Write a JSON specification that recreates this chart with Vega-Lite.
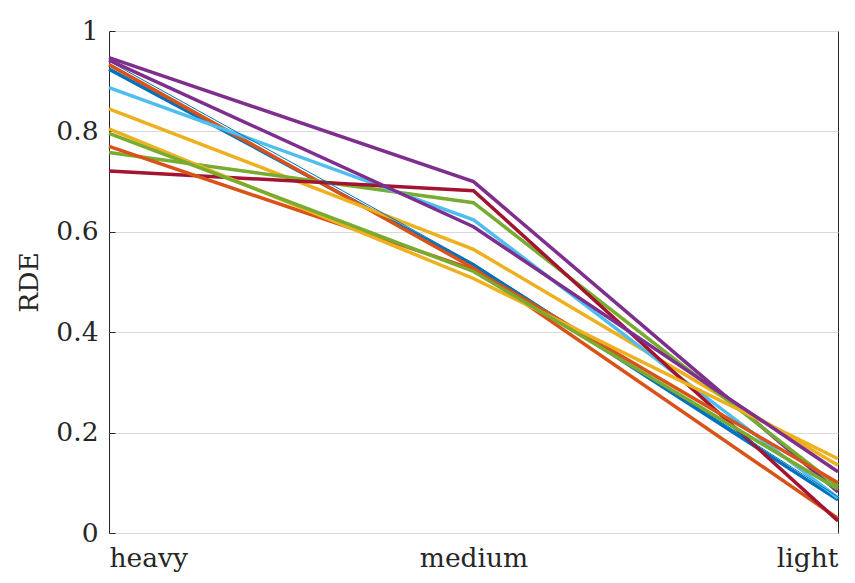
{
  "$schema": "https://vega.github.io/schema/vega-lite/v6.json",
  "width": 729,
  "height": 502,
  "autosize": {"type": "none"},
  "padding": {"left": 109, "top": 31, "right": 17, "bottom": 50},
  "background": "white",
  "config": {
    "view": {"stroke": "#262626", "strokeWidth": 1},
    "font": "DejaVu Serif",
    "axis": {
      "labelFont": "DejaVu Serif",
      "titleFont": "DejaVu Serif",
      "labelColor": "#262626",
      "titleColor": "#262626",
      "domainColor": "#262626",
      "tickColor": "#262626",
      "labelFontSize": 26.5,
      "titleFontSize": 26.5,
      "titleFontWeight": "normal"
    }
  },
  "data": {
    "values": [
      {"series": "s01", "level": "heavy", "value": 0.924},
      {"series": "s01", "level": "medium", "value": 0.534},
      {"series": "s01", "level": "light", "value": 0.066},
      {"series": "s02", "level": "heavy", "value": 0.933},
      {"series": "s02", "level": "medium", "value": 0.528},
      {"series": "s02", "level": "light", "value": 0.029},
      {"series": "s03", "level": "heavy", "value": 0.845},
      {"series": "s03", "level": "medium", "value": 0.565},
      {"series": "s03", "level": "light", "value": 0.135},
      {"series": "s04", "level": "heavy", "value": 0.947},
      {"series": "s04", "level": "medium", "value": 0.700},
      {"series": "s04", "level": "light", "value": 0.082},
      {"series": "s05", "level": "heavy", "value": 0.758},
      {"series": "s05", "level": "medium", "value": 0.658},
      {"series": "s05", "level": "light", "value": 0.093},
      {"series": "s06", "level": "heavy", "value": 0.887},
      {"series": "s06", "level": "medium", "value": 0.624},
      {"series": "s06", "level": "light", "value": 0.070},
      {"series": "s07", "level": "heavy", "value": 0.721},
      {"series": "s07", "level": "medium", "value": 0.682},
      {"series": "s07", "level": "light", "value": 0.024},
      {"series": "s08", "level": "heavy", "value": 0.940},
      {"series": "s08", "level": "medium", "value": 0.537},
      {"series": "s08", "level": "light", "value": 0.072},
      {"series": "s09", "level": "heavy", "value": 0.770},
      {"series": "s09", "level": "medium", "value": 0.525},
      {"series": "s09", "level": "light", "value": 0.100},
      {"series": "s10", "level": "heavy", "value": 0.805},
      {"series": "s10", "level": "medium", "value": 0.507},
      {"series": "s10", "level": "light", "value": 0.148},
      {"series": "s11", "level": "heavy", "value": 0.942},
      {"series": "s11", "level": "medium", "value": 0.610},
      {"series": "s11", "level": "light", "value": 0.122},
      {"series": "s12", "level": "heavy", "value": 0.796},
      {"series": "s12", "level": "medium", "value": 0.521},
      {"series": "s12", "level": "light", "value": 0.087}
    ]
  },
  "mark": {"type": "line", "strokeCap": "butt", "strokeJoin": "miter"},
  "encoding": {
    "x": {
      "field": "level",
      "type": "ordinal",
      "sort": ["heavy", "medium", "light"],
      "scale": {"type": "point", "padding": 0},
      "axis": {
        "title": null,
        "labelAngle": 0,
        "labelFlush": true,
        "ticks": false,
        "domain": false,
        "labelPadding": 12,
        "grid": false
      }
    },
    "y": {
      "field": "value",
      "type": "quantitative",
      "scale": {"domain": [0, 1], "nice": false, "zero": true},
      "axis": {
        "title": "RDE",
        "values": [0, 0.2, 0.4, 0.6, 0.8, 1],
        "format": "~g",
        "grid": true,
        "gridColor": "#d9d9d9",
        "gridWidth": 1,
        "tickSize": -6,
        "labelPadding": 17,
        "titlePadding": 12,
        "domain": false
      }
    },
    "color": {
      "field": "series",
      "type": "nominal",
      "legend": null,
      "scale": {
        "domain": ["s01", "s02", "s03", "s04", "s05", "s06", "s07", "s08", "s09", "s10", "s11", "s12"],
        "range": ["#0072BD", "#D95319", "#EDB120", "#7E2F8E", "#77AC30", "#4DBEEE", "#A2142F", "#0072BD", "#D95319", "#EDB120", "#7E2F8E", "#77AC30"]
      }
    },
    "strokeWidth": {
      "condition": {"test": "datum.series === 's08'", "value": 1},
      "value": 3.5
    }
  }
}
